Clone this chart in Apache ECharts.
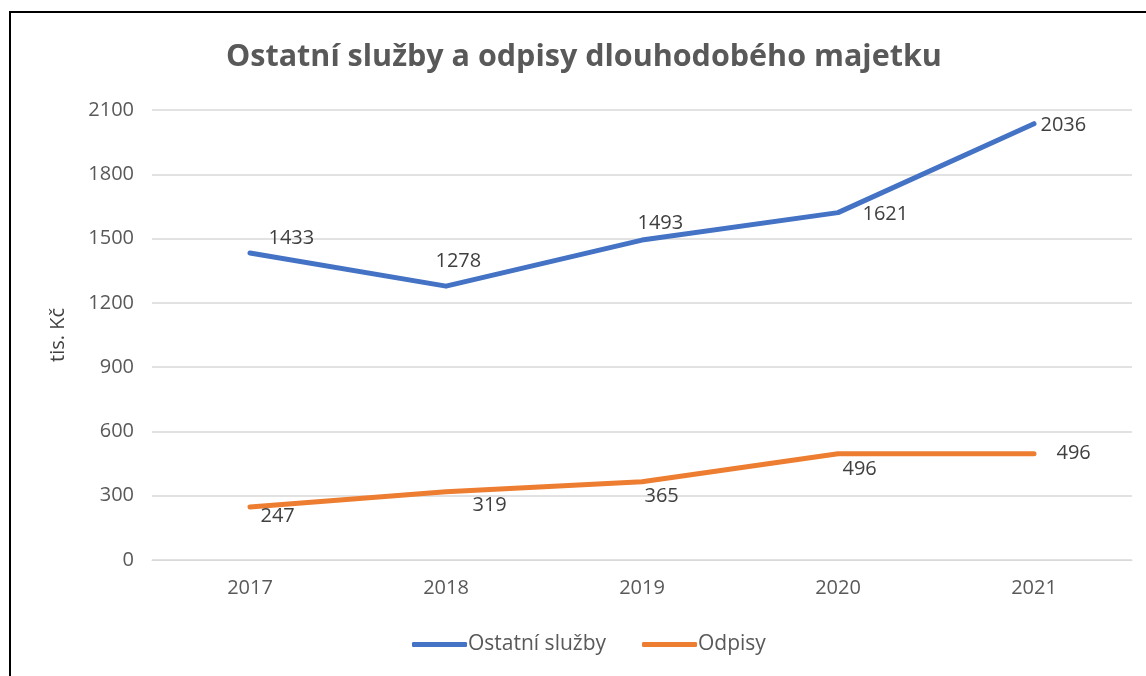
<!DOCTYPE html>
<html>
<head>
<meta charset="utf-8">
<script src="https://cdn.jsdelivr.net/npm/echarts@6/dist/echarts.min.js"></script>
<style>
  html, body { margin: 0; padding: 0; background: #fff; }
  #chart { width: 1146px; height: 676px; }
</style>
</head>
<body>
<div id="chart"></div>
<script>
var years = ['2017', '2018', '2019', '2020', '2021'];
var ostatniSluzby = [1433, 1278, 1493, 1621, 2036];
var odpisy = [247, 319, 365, 496, 496];

// label placement per point, as in the original
var blueLabelPos = [[13, -15], [-16, -25], [-10, -17], [19, 2], [1, 2]];
var orangeLabelPos = [[5, 9], [21, 14], [-3, 15], [-1, 16], [17, 0]];

function withLabels(values, offsets) {
    return values.map(function (v, i) {
        return {
            value: v,
            label: { position: 'right', offset: offsets[i] }
        };
    });
}

var chart = echarts.init(document.getElementById('chart'));
var fontFamily = '"Open Sans", "DejaVu Sans", sans-serif';
var option = {
    animation: false,
    textStyle: { fontFamily: fontFamily },
    graphic: [{
        type: 'polyline',
        shape: { points: [[10, 676], [10, 12], [1146, 12]] },
        style: { stroke: '#000', lineWidth: 2, fill: null }
    }],
    title: {
        text: 'Ostatní služby a odpisy dlouhodobého majetku',
        left: 221,
        top: 37,
        textStyle: { fontSize: 30.5, fontWeight: 'bold', color: '#595959', fontFamily: fontFamily }
    },
    legend: {
        bottom: 16,
        left: 407,
        itemWidth: 55,
        itemHeight: 5,
        itemGap: 36,
        icon: 'roundRect',
        textStyle: { fontSize: 21, color: '#595959', padding: [0, 0, 0, -4] },
        data: ['Ostatní služby', 'Odpisy']
    },
    grid: { left: 152, right: 14, top: 110, bottom: 116 },
    xAxis: {
        type: 'category',
        data: years,
        boundaryGap: true,
        axisLine: { lineStyle: { color: '#d9d9d9', width: 1 } },
        axisTick: { show: false },
        axisLabel: { fontSize: 20, color: '#595959', margin: 18 }
    },
    yAxis: {
        type: 'value',
        min: 0,
        max: 2100,
        interval: 300,
        name: 'tis. Kč',
        nameLocation: 'middle',
        nameGap: 84,
        nameTextStyle: { fontSize: 20, color: '#404040' },
        axisLine: { show: false },
        axisTick: { show: false },
        axisLabel: {
            fontSize: 20, color: '#595959', margin: 18,
            formatter: function (v) { return String(v); }
        },
        splitLine: { lineStyle: { color: '#d9d9d9', width: 1.5 } }
    },
    series: [{
        name: 'Ostatní služby',
        type: 'line',
        data: withLabels(ostatniSluzby, blueLabelPos),
        symbol: 'circle',
        symbolSize: 1,
        showSymbol: true,
        lineStyle: { color: '#4472C4', width: 5, cap: 'round', join: 'round' },
        itemStyle: { color: '#4472C4' },
        label: { show: true, fontSize: 20, color: '#404040' }
    }, {
        name: 'Odpisy',
        type: 'line',
        data: withLabels(odpisy, orangeLabelPos),
        symbol: 'circle',
        symbolSize: 1,
        showSymbol: true,
        lineStyle: { color: '#ED7D31', width: 5, cap: 'round', join: 'round' },
        itemStyle: { color: '#ED7D31' },
        label: { show: true, fontSize: 20, color: '#404040' }
    }]
};

chart.setOption(option);

window.onresize = chart.resize;
</script>
</body>
</html>
